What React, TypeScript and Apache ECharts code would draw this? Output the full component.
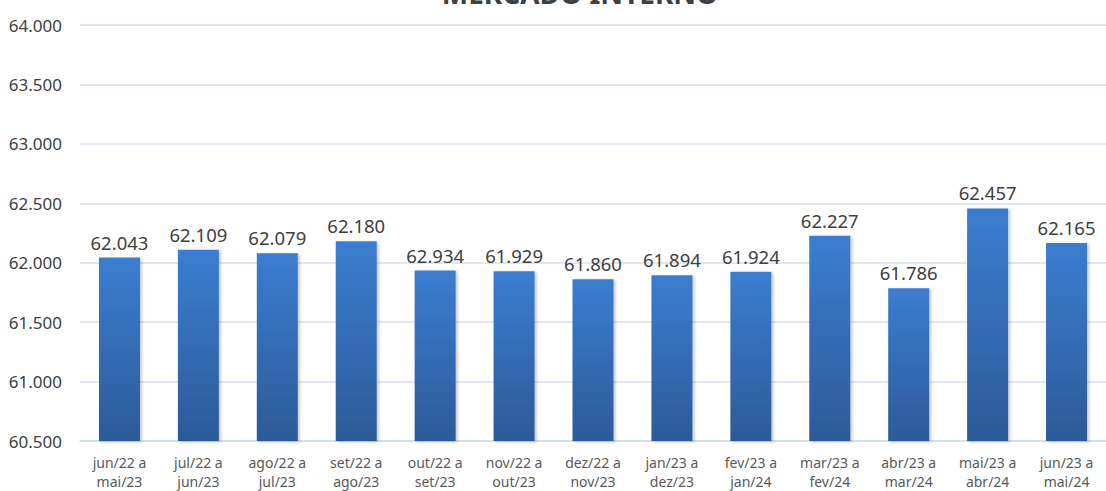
import React, { useEffect, useRef } from "react";
import * as echarts from "echarts";

const categories = [
  "jun/22 a\nmai/23",
  "jul/22 a\njun/23",
  "ago/22 a\njul/23",
  "set/22 a\nago/23",
  "out/22 a\nset/23",
  "nov/22 a\nout/23",
  "dez/22 a\nnov/23",
  "jan/23 a\ndez/23",
  "fev/23 a\njan/24",
  "mar/23 a\nfev/24",
  "abr/23 a\nmar/24",
  "mai/23 a\nabr/24",
  "jun/23 a\nmai/24",
];
const values = [62.043, 62.109, 62.079, 62.18, 61.934, 61.929, 61.86, 61.894, 61.924, 62.227, 61.786, 62.457, 62.165];
const valueLabels = ["62.043", "62.109", "62.079", "62.180", "62.934", "61.929", "61.860", "61.894", "61.924", "62.227", "61.786", "62.457", "62.165"];
const yMin = 60.5;
const yMax = 64;
const yStep = 0.5;
const title = "MERCADO INTERNO";

const FONT = "'Noto Sans', 'Open Sans', sans-serif";

export default function App() {
  const ref = useRef<HTMLDivElement>(null);
  useEffect(() => {
    if (!ref.current) return;
    const chart = echarts.init(ref.current, undefined, { renderer: "svg" });
    chart.setOption({
      animation: false,
      backgroundColor: "#ffffff",
      textStyle: { fontFamily: FONT },
      graphic: [
        {
          type: "text",
          x: 580,
          y: -7,
          style: {
            text: title,
            align: "center",
            verticalAlign: "middle",
            font: `bold 28px ${FONT}`,
            fill: "#404040",
          },
        },
      ],
      grid: { left: 80, right: -1, top: 25, bottom: 47, containLabel: false },
      xAxis: {
        type: "category",
        data: categories,
        axisLine: { show: true, lineStyle: { color: "#cfdcec", width: 1.5 } },
        axisTick: { show: false },
        axisLabel: {
          interval: 0,
          margin: 12,
          fontSize: 14,
          lineHeight: 19,
          color: "#595959",
          fontFamily: FONT,
        },
      },
      yAxis: {
        type: "value",
        min: yMin,
        max: yMax,
        interval: yStep,
        axisLine: { show: false },
        axisTick: { show: false },
        splitLine: { lineStyle: { color: "#d3dfee", width: 1.5 } },
        axisLabel: {
          margin: 18,
          fontSize: 17,
          color: "#404040",
          fontFamily: FONT,
          formatter: (v: number) => v.toFixed(3),
        },
      },
      series: [
        {
          type: "bar",
          data: values,
          barWidth: 41,
          itemStyle: {
            color: new echarts.graphic.LinearGradient(0, 0, 0, 1, [
              { offset: 0, color: "#3b7dd0" },
              { offset: 1, color: "#2c5a98" },
            ]),
            shadowColor: "rgba(0,0,0,0.22)",
            shadowBlur: 3,
            shadowOffsetX: 2,
            shadowOffsetY: 1,
          },
          label: {
            show: true,
            position: "top",
            distance: 6,
            fontSize: 18.5,
            color: "#404040",
            fontFamily: FONT,
            formatter: (p: any) => valueLabels[p.dataIndex],
          },
        },
      ],
    });
    return () => chart.dispose();
  }, []);
  return (
    <div
      ref={ref}
      style={{ position: "fixed", left: 0, top: 0, width: 1106, height: 491 }}
    />
  );
}
